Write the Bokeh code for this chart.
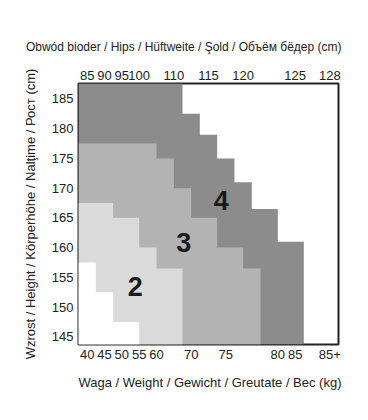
import numpy as np
from bokeh.plotting import figure
from bokeh.models import FixedTicker, LinearAxis, Range1d, Title
from bokeh.core.properties import value
from bokeh.embed import file_html
from bokeh.resources import INLINE

# ---- tick labels ----
weight_labels = ["40", "45", "50", "55", "60", "70", "75", "80", "85", "85+"]
weight_cols = [0, 1, 2, 3, 4, 6, 8, 11, 12, 14]
hip_labels = ["85", "90", "95", "100", "110", "115", "120", "125", "128"]
hip_cols = [0, 1, 2, 3, 5, 7, 9, 12, 14]
heights = [145, 150, 155, 160, 165, 170, 175, 180, 185]

n_cols = 15
height_min, height_max = 143.7, 187.6

# ---- size zones: column edges of each step and the top height (cm) of each step ----
size4_edges = [0, 6, 7, 8, 9, 10, 11.5, 13]
size4_tops = [height_max, 182.5, 179, 175, 171, 166.5, 161]
size3_edges = [0, 4.5, 5.5, 6.5, 8, 9.5, 10.5]
size3_tops = [177.5, 175, 170, 165, 160, 156.5]
size2_edges = [0, 2, 3.5, 4.5, 6]
size2_tops = [167.5, 165, 160, 156.5]
blank_edges = [0, 1, 2, 3.5]
blank_tops = [157.5, 152.5, 147.5]

size_names = ["2", "3", "4"]
size_label_col = [3.27, 6.07, 8.23]
size_label_height = [153.5, 160.8, 168.0]

x_title_top = "Obwód bioder / Hips / Hüftweite / Şold / Объём бёдер (cm)"
x_title_bottom = "Waga / Weight / Gewicht / Greutate / Bec (kg)"
y_title = "Wzrost / Height / Körperhöhe / Nalţime / Рост (cm)"

TXT = "#222222"
TICK_FONT = "Liberation Sans Narrow, Arial Narrow, Liberation Sans, sans-serif"

p = figure(width=360, height=412, x_range=Range1d(0, n_cols), y_range=Range1d(height_min, height_max),
           output_backend="svg", toolbar_location=None,
           min_border_left=78, min_border_right=22, min_border_top=83, min_border_bottom=68)
p.xaxis.visible = False
p.yaxis.visible = False
p.grid.visible = False
p.outline_line_color = TXT
p.outline_line_width = 2
p.background_fill_color = "white"
p.border_fill_color = "white"


def step_polygon(edges, tops):
    xs, ys = [edges[0]], [height_min]
    for i, t in enumerate(tops):
        xs += [edges[i], edges[i + 1]]
        ys += [t, t]
    xs.append(edges[-1])
    ys.append(height_min)
    return xs, ys


zones = [
    (size4_edges, size4_tops, "#8c8c8c"),
    (size3_edges, size3_tops, "#b3b3b3"),
    (size2_edges, size2_tops, "#dadada"),
    (blank_edges, blank_tops, "#ffffff"),
]
for edges, tops, col in zones:
    xs, ys = step_polygon(edges, tops)
    p.patch(xs, ys, fill_color=col, line_color=None)

p.text(x=size_label_col, y=size_label_height, text=size_names,
       text_font=value("Liberation Sans"), text_font_style="bold", text_font_size="27px",
       text_align="center", text_baseline="middle", text_color="#1a1a1a")


def style(ax):
    ax.axis_line_color = None
    ax.major_tick_line_color = None
    ax.minor_tick_line_color = None
    ax.major_tick_out = 0
    ax.major_tick_in = 0
    ax.major_label_text_font = TICK_FONT
    ax.major_label_text_font_size = "13px"
    ax.major_label_text_color = TXT
    ax.axis_label_text_font = "Liberation Sans"
    ax.axis_label_text_font_size = "13px"
    ax.axis_label_text_font_style = "normal"
    ax.axis_label_text_color = TXT


w_ticks = [c + 0.5 for c in weight_cols]
bottom = LinearAxis(ticker=FixedTicker(ticks=w_ticks),
                    major_label_overrides={t: l for t, l in zip(w_ticks, weight_labels)})
style(bottom)
bottom.major_label_standoff = 5
p.add_layout(bottom, "below")

h_ticks = [c + 0.5 for c in hip_cols]
top = LinearAxis(ticker=FixedTicker(ticks=h_ticks),
                 major_label_overrides={t: l for t, l in zip(h_ticks, hip_labels)})
style(top)
top.major_label_standoff = 4
p.add_layout(top, "above")

left = LinearAxis(ticker=FixedTicker(ticks=heights), axis_label=y_title)
style(left)
left.major_label_standoff = 5
left.axis_label_standoff = 11
p.add_layout(left, "left")


def make_title(text, size, standoff):
    return Title(text=text, align="right", offset=-3, standoff=standoff,
                 text_font="Liberation Sans", text_font_size=size,
                 text_font_style="normal", text_color=TXT)


p.add_layout(make_title(x_title_top, "12px", 27), "above")
p.add_layout(make_title(x_title_bottom, "13px", 23), "below")

open("out.html", "w").write(file_html(p, INLINE))
